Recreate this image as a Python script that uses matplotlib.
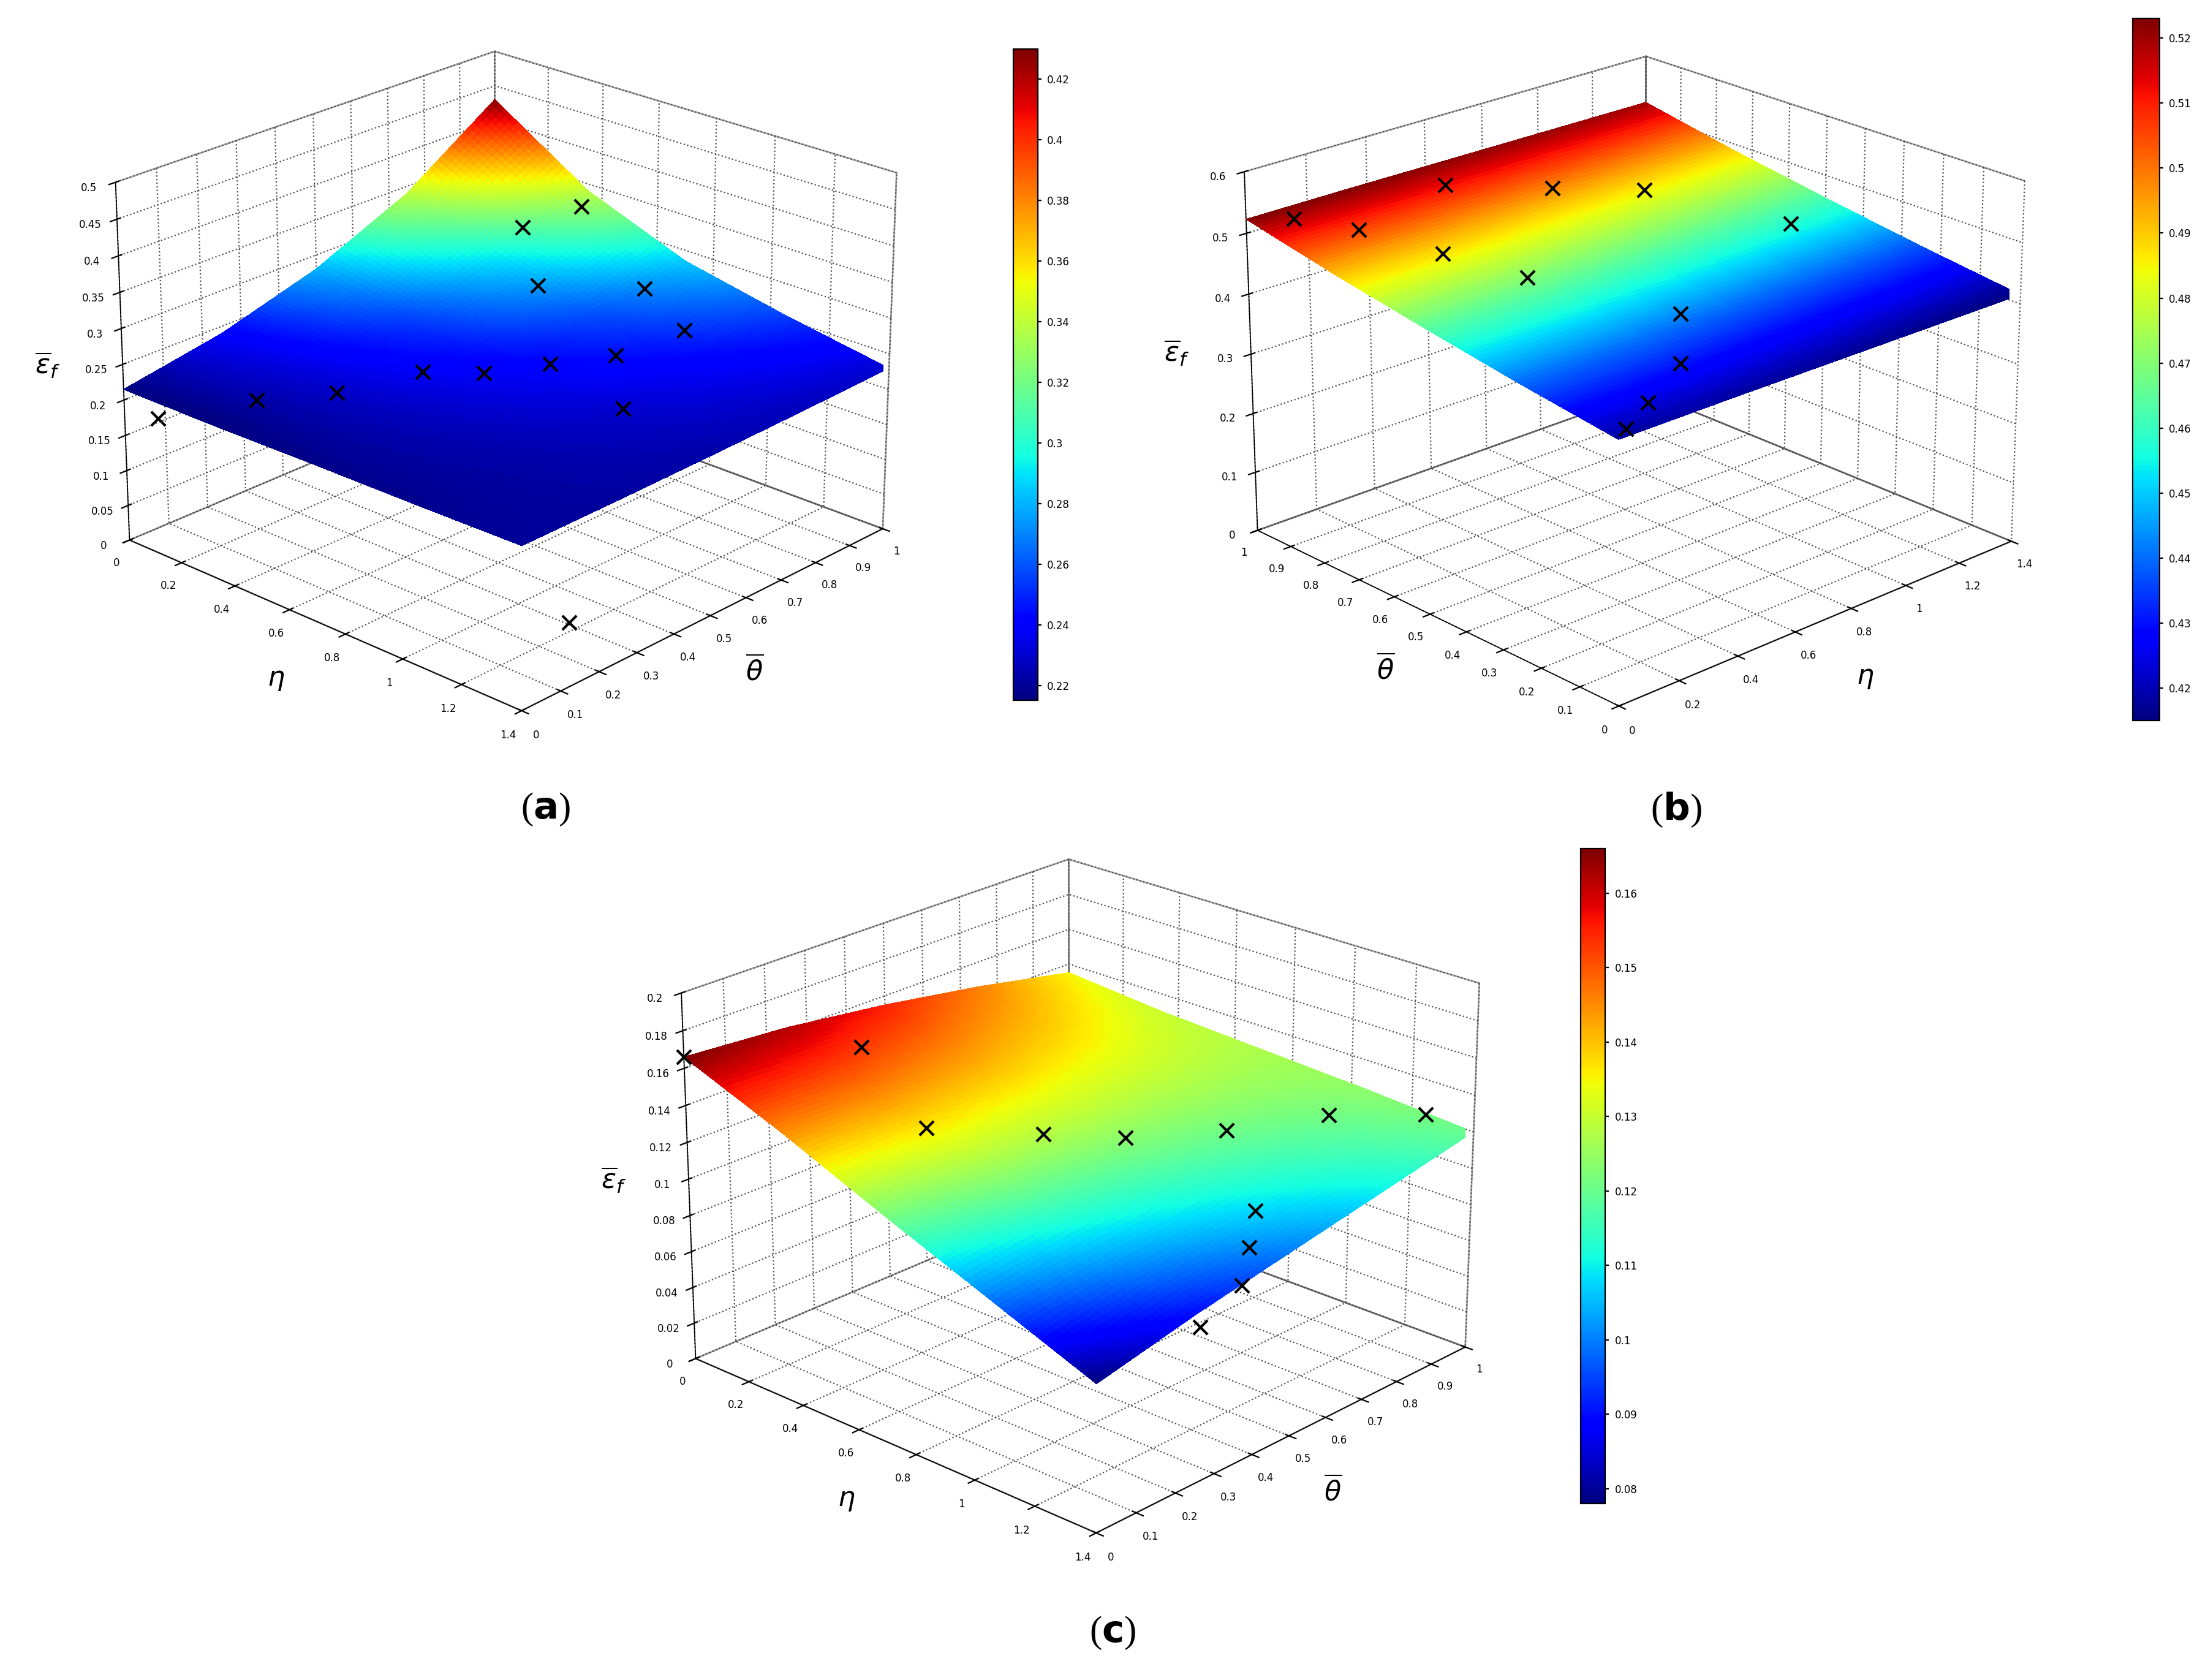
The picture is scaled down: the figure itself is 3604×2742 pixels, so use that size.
import numpy as np
import matplotlib
matplotlib.use("Agg")
import matplotlib.pyplot as plt
from mpl_toolkits.mplot3d import Axes3D  # noqa

# ---- data ----
eta = [0.0, 0.35, 0.7, 1.05, 1.4]
theta = [0.0, 0.25, 0.5, 0.75, 1.0]
za = [[0.215, 0.240, 0.280, 0.340, 0.430],
      [0.215, 0.232, 0.255, 0.290, 0.340],
      [0.217, 0.227, 0.240, 0.258, 0.285],
      [0.218, 0.223, 0.230, 0.240, 0.255],
      [0.220, 0.221, 0.223, 0.226, 0.230]]
zb = [[0.418, 0.440, 0.465, 0.492, 0.523],
      [0.418, 0.440, 0.465, 0.492, 0.523],
      [0.417, 0.439, 0.464, 0.491, 0.522],
      [0.416, 0.438, 0.463, 0.490, 0.521],
      [0.415, 0.437, 0.462, 0.489, 0.520]]
zc = [[0.166, 0.162, 0.155, 0.146, 0.135],
      [0.145, 0.145, 0.142, 0.137, 0.130],
      [0.122, 0.127, 0.128, 0.128, 0.127],
      [0.100, 0.108, 0.114, 0.119, 0.124],
      [0.078, 0.090, 0.100, 0.110, 0.120]]
# experimental points (eta, theta, z)
pa_eta = [0.05, 0.35, 0.5, 0.6, 0.75, 0.85, 0.95, 1.0, 0.55, 0.3, 0.45, 1.1, 1.3, 0.8]
pa_th = [0.05, 0.1, 0.2, 0.35, 0.4, 0.5, 0.6, 0.75, 0.7, 0.85, 0.9, 0.5, 0.2, 0.8]
pa_z = [0.17, 0.23, 0.24, 0.25, 0.26, 0.265, 0.27, 0.28, 0.29, 0.31, 0.35, 0.24, 0.05, 0.30]
pb_eta = [0.1, 0.2, 0.3, 0.4, 0.55, 0.8, 1.0, 1.2, 0.6, 0.4, 0.2, 0.05]
pb_th = [0.95, 0.85, 0.7, 0.55, 0.9, 0.8, 0.7, 0.45, 0.3, 0.15, 0.08, 0.02]
pb_z = [0.52, 0.51, 0.49, 0.47, 0.52, 0.50, 0.49, 0.46, 0.44, 0.43, 0.42, 0.42]
pc_eta = [0.0, 0.2, 0.5, 0.7, 0.85, 1.0, 1.1, 1.3, 1.35, 1.3, 1.2, 1.1]
pc_th = [0.0, 0.3, 0.25, 0.4, 0.5, 0.65, 0.85, 0.95, 0.3, 0.45, 0.55, 0.65]
pc_z = [0.166, 0.158, 0.135, 0.13, 0.128, 0.128, 0.125, 0.128, 0.075, 0.08, 0.085, 0.09]

def refine(z, n=80):
    e = np.linspace(eta[0], eta[-1], n)
    t = np.linspace(theta[0], theta[-1], n)
    z = np.asarray(z)
    tmp = np.array([np.interp(t, theta, row) for row in z])
    full = np.array([np.interp(e, eta, tmp[:, j]) for j in range(n)]).T
    E, T = np.meshgrid(e, t, indexing="ij")
    return E, T, full

plt.rcParams['font.family'] = ['DejaVu Sans']
fig = plt.figure(figsize=(18.02, 13.71), dpi=200)

def style(ax):
    for a in (ax.xaxis, ax.yaxis, ax.zaxis):
        a.pane.fill = False
        a.pane.set_edgecolor('0.3')
        a._axinfo['grid'].update(linestyle=':', linewidth=0.8, color='0.3')
        a.line.set_linewidth(0.6)
        a.set_rotate_label(False)
    ax.tick_params(labelsize=6, pad=0)

def panel(rect, z, zlim, zticks, elev, azim, pe, pt, pz, cbrect, cbticks, lab, labpos, zpos):
    ax = fig.add_axes(rect, projection='3d', computed_zorder=False)
    E, T, Z = refine(z)
    surf = ax.plot_surface(E, T, Z, cmap='jet', rstride=1, cstride=1,
                           linewidth=0, antialiased=False,
                           vmin=np.min(z), vmax=np.max(z), zorder=1)
    ax.scatter(pe, pt, pz, marker='x', color='k', s=70, linewidths=1.5,
               depthshade=False, zorder=5)
    ax.set_xlim(0, 1.4); ax.set_ylim(0, 1); ax.set_zlim(*zlim)
    ax.set_xticks(np.arange(0, 1.41, 0.2))
    ax.set_xticklabels(['0', '0.2', '0.4', '0.6', '0.8', '1', '1.2', '1.4'])
    ax.set_yticks(np.arange(0, 1.01, 0.1))
    ax.set_yticklabels(['0'] + ['%.1f' % v for v in np.arange(0.1, 1.0, 0.1)] + ['1'])
    ax.set_zticks(zticks)
    ax.set_zticklabels([('%g' % v) for v in zticks])
    ax.set_xlabel(r'$\eta$', fontsize=16, labelpad=4)
    ax.set_ylabel(r'$\overline{\theta}$', fontsize=16, labelpad=4)
    ax.set_zlabel(r'$\overline{\epsilon}_f$', fontsize=16, labelpad=2)
    ax.view_init(elev=elev, azim=azim)
    ax.set_box_aspect((1.4, 1.4, 1.0), zoom=1.08)
    style(ax)
    ax.zaxis.set_ticks_position(zpos)
    ax.zaxis.set_label_position(zpos)
    cax = fig.add_axes(cbrect)
    cb = fig.colorbar(surf, cax=cax, ticks=cbticks)
    cb.ax.tick_params(labelsize=6, length=2)
    cb.ax.set_yticklabels(['%g' % v for v in cbticks])
    fig.text(labpos[0], labpos[1], '(' + r'$\mathbf{' + lab + '}$' + ')',
             fontsize=22, ha='center', va='center', family='Liberation Serif')

panel([-0.01, 0.55, 0.47, 0.46], za, (0, 0.5), np.arange(0, 0.501, 0.05), 23, -47,
      pa_eta, pa_th, pa_z, [0.459, 0.583, 0.011, 0.388],
      [0.22, 0.24, 0.26, 0.28, 0.30, 0.32, 0.34, 0.36, 0.38, 0.40, 0.42], 'a', (0.247, 0.518), 'lower')
panel([0.5, 0.55, 0.47, 0.46], zb, (0, 0.6), np.arange(0, 0.601, 0.1), 22, -133,
      pb_eta, pb_th, pb_z, [0.966, 0.571, 0.012, 0.418],
      [0.42, 0.43, 0.44, 0.45, 0.46, 0.47, 0.48, 0.49, 0.50, 0.51, 0.52], 'b', (0.759, 0.518), 'default')
panel([0.25, 0.06, 0.47, 0.47], zc, (0, 0.2), np.arange(0, 0.201, 0.02), 23, -47,
      pc_eta, pc_th, pc_z, [0.716, 0.105, 0.011, 0.39],
      [0.08, 0.09, 0.10, 0.11, 0.12, 0.13, 0.14, 0.15, 0.16], 'c', (0.504, 0.028), 'lower')

fig.savefig('out.png', dpi=200)
